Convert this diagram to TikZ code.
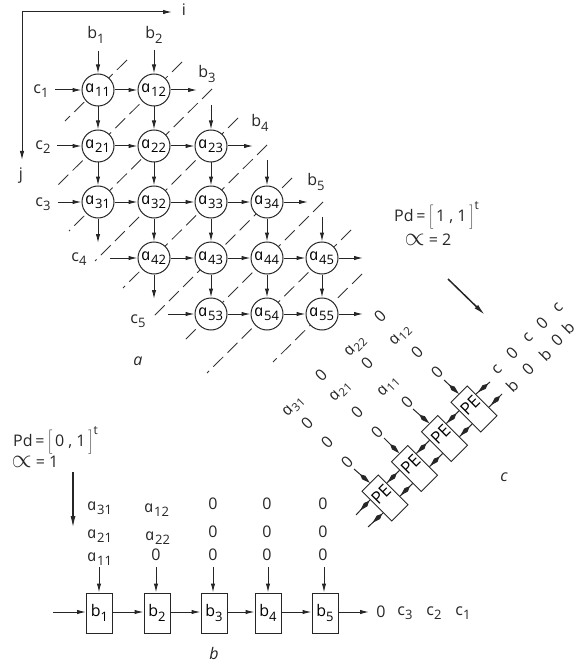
\documentclass[tikz,border=0pt]{standalone}
\usepackage{fontspec}
\setmainfont{Open Sans}
\newfontfamily\afont{Open Sans Italic}[FakeSlant=-0.21]
\usetikzlibrary{arrows.meta,calc,decorations.markings}
\newcommand\sbl[2]{#1\raisebox{-4.5pt}{\fontsize{13}{13}\selectfont #2}}
\newcommand\aij[1]{\sbl{{\afont a}}{#1}}
\newcommand\rsbl[1]{{\afont a}\raisebox{-3pt}{\fontsize{11.5}{11.5}\selectfont #1}}
\newcommand\pdtext[2]{Pd\,=\,$\bigg[$\,#1 , #2\,$\bigg]$\raisebox{12pt}{\fontsize{12}{12}\selectfont t}}
\newcommand\prop{\scalebox{1.5}{$\propto$}}
\tikzset{
  >={Latex[length=9pt,width=4.4pt]},
  every node/.style={font=\fontsize{16}{16}\selectfont,inner sep=0pt},
  line/.style={line width=1pt,draw=black!85},
  conn/.style={line,->},
  dashl/.style={line width=0.85pt,draw=black!80,dash pattern=on 14pt off 6pt},
  bigarrow/.style={line width=1.5pt,draw=black!85,-{Latex[length=12pt,width=5pt]}},
  cell/.style={circle,draw=black!85,line width=1pt,fill=white,minimum size=32pt},
  bbox/.style={rectangle,draw=black!85,line width=0.95pt,fill=white,minimum width=26pt,minimum height=40pt},
  pebox/.style={rectangle,draw=black!85,line width=0.95pt,fill=white,minimum width=23pt,minimum height=42pt,
     rotate=45,font=\fontsize{17}{17}\selectfont,text height=11pt,text depth=10pt},
  rlab/.style={rotate=45,text=black!85},
  txt/.style={text=black!85},
  pecon/.style={line,-{Kite[length=13pt,width=4.8pt,inset=5pt]}},
  pemid/.style={line,postaction={decorate,decoration={markings,
     mark=at position #1 with {\arrow{Kite[length=13pt,width=4.8pt,inset=5pt]}}}}},
  captext/.style={font=\fontsize{16}{16}\selectfont\itshape,text=black!85}
}
\begin{document}
\begin{tikzpicture}[x=1pt,y=-1pt]
\useasboundingbox (0,0) rectangle (579,663);
% axes
\coordinate (org) at (22,12);
\coordinate (iend) at (172,12);
\coordinate (jend) at (22,160);
\draw[conn] (org) -- (iend);
\draw[conn] (org) -- (jend);
\node[txt] (ilab) at (184,10) {i};
\node[txt] (jlab) at (21,176) {j};
% dashed diagonals
\foreach \n/\sx/\sy/\ex/\ey in {1/65/121/127/60,2/58/185/182/62,3/69/231/212/89,4/95/261/238/118,5/123/288/267/145,6/152/318/292/178,7/182/343/323/202,8/207/373/351/230,9/273/362/362/274}{
  \coordinate (ds\n) at (\sx,\sy);
  \coordinate (de\n) at (\ex,\ey);
  \draw[dashl] (de\n) -- (ds\n);
}
% cells of the array
\foreach \name/\x/\y in {11/98/90,12/154/90,21/98/146,22/154/146,23/211/146,31/98/202,32/154/202,33/211/202,34/267/202,42/154/258,43/211/258,44/267/258,45/322/258,53/211/314,54/267/314,55/322/314}{
  \node[cell] (a\name) at (\x,\y) {\aij{\name}};
}
% labels
\node[txt] (lb1) at (96,35) {\sbl{b}{1}};
\node[txt] (lb2) at (154,35) {\sbl{b}{2}};
\node[txt] (lb3) at (207,74) {\sbl{b}{3}};
\node[txt] (lb4) at (260,123) {\sbl{b}{4}};
\node[txt] (lb5) at (316,182) {\sbl{b}{5}};
\node[txt] (lc1) at (41,91) {\sbl{c}{1}};
\node[txt] (lc2) at (43,147) {\sbl{c}{2}};
\node[txt] (lc3) at (43,204) {\sbl{c}{3}};
\node[txt] (lc4) at (79,259) {\sbl{c}{4}};
\node[txt] (lc5) at (138,321) {\sbl{c}{5}};
% free ends
\foreach \n/\x/\y in {c1/55/90,c2/57/146,c3/58/202,c4/110/258,c5/168/314,r1/197/90,r2/253/146,r3/308/202,r4/363/258,r5/363/314,t1/98/51,t2/154/50,t3/211/105,t4/267/160,t5/322/217,o1/98/243,o2/154/299}{
  \coordinate (\n) at (\x,\y);
}
% horizontal connectors
\foreach \s/\e in {c1/a11,a11/a12,a12/r1,c2/a21,a21/a22,a22/a23,a23/r2,c3/a31,a31/a32,a32/a33,a33/a34,a34/r3,c4/a42,a42/a43,a43/a44,a44/a45,a45/r4,c5/a53,a53/a54,a54/a55,a55/r5}{
  \draw[conn] (\s) -- (\e);
}
% vertical connectors
\foreach \s/\e in {t1/a11,a11/a21,a21/a31,a31/o1,t2/a12,a12/a22,a22/a32,a32/a42,a42/o2,t3/a23,a23/a33,a33/a43,a43/a53,t4/a34,a34/a44,a44/a54,t5/a45,a45/a55}{
  \draw[conn] (\s) -- (\e);
}
\node[captext] (capa) at (138,361) {a};
% Pd texts
\node[txt,anchor=west] (pd1) at (394,215) {\pdtext{1}{1}};
\node[txt] (al1) at (428,240) {\prop\ = 2};
\coordinate (ba1) at (448,279);
\coordinate (ba2) at (485,315);
\draw[bigarrow] (ba1) -- (ba2);
\node[txt,anchor=west] (pd2) at (13,440) {\pdtext{0}{1}};
\node[txt] (al2) at (35,462) {\prop\ = 1};
\coordinate (bb1) at (73,472);
\coordinate (bb2) at (73,528);
\draw[bigarrow] (bb1) -- (bb2);
% part c
\foreach \n/\x/\y in {1/474/409,2/444.5/438.5,3/414.5/468.5,4/385/498}{
  \node[pebox] (p\n) at (\x,\y) {PE};
}
\foreach \n/\x/\y in {1/444/380,2/413/409,3/384/438,4/354/469}{
  \coordinate (in\n) at (\x,\y);
  \draw[pecon] (in\n) -- (p\n.north);
}
\foreach \a/\b in {1/2,2/3,3/4}{
  \draw[pemid=0.95] ($(p\a.west)!0.43!(p\a.north west)$) -- ($(p\b.east)!0.43!(p\b.north east)$);
  \draw[pemid=0.95] ($(p\a.west)!0.43!(p\a.south west)$) -- ($(p\b.east)!0.43!(p\b.south east)$);
}
\coordinate (cin) at (490,382);
\coordinate (bin) at (502,394);
\coordinate (cout) at (356,515);
\coordinate (bout) at (368,527);
\draw[pemid=0.85] (cin) -- ($(p1.east)!0.43!(p1.north east)$);
\draw[pemid=0.85] (bin) -- ($(p1.east)!0.43!(p1.south east)$);
\draw[pemid=0.7] ($(p4.west)!0.43!(p4.north west)$) -- (cout);
\draw[pemid=0.7] ($(p4.west)!0.43!(p4.south west)$) -- (bout);
% rotated data of part c
\foreach \lab/\x/\y [count=\i] in {c/497/370,0/512/353,c/528/338,0/542/323,c/558/308,b/512/386,0/528/369,b/545/355,0/557/340,b/568/328,0/437/372,0/417/352,0/380/316,0/407/402,0/367/363,0/377/432,0/357/412,0/321/375,0/347/462,0/327/442,0/307/423}{
  \node[rlab] (rd\i) at (\x,\y) {\lab};
}
\foreach \lab/\x/\y in {12/401/336,11/389/387,22/356/347,21/341/392,31/294/407}{
  \node[rlab] (ra\lab) at (\x,\y) {\rsbl{\lab}};
}
\node[captext] (capc) at (504,477) {c};
% part b
\node[txt] (s1) at (100,508) {\aij{31}};
\node[txt] (s2) at (100,536) {\aij{21}};
\node[txt] (s3) at (100,559) {\aij{11}};
\node[txt] (s4) at (157,510) {\aij{12}};
\node[txt] (s5) at (158,538) {\aij{22}};
\foreach \x/\y [count=\i] in {156/555,213/504,213/532,213/555,267/504,267/532,267/555,323/504,323/532,323/555}{
  \node[txt] (z\i) at (\x,\y) {0};
}
\foreach \n/\x in {1/99.5,2/157,3/214,4/268,5/325}{
  \node[bbox] (b\n) at (\x,613) {\sbl{b}{\n}};
}
\foreach \n/\x in {1/99,2/156,3/213,4/268,5/324}{
  \coordinate (bt\n) at (\x,567);
  \draw[conn] (bt\n) -- (bt\n |- b\n.north);
}
\coordinate (bl) at (53,612);
\coordinate (br) at (369,612);
\draw[conn] (bl) -- (bl -| b1.west);
\foreach \a/\b in {1/2,2/3,3/4,4/5}{
  \draw[conn] (b\a.east |- bl) -- (b\b.west |- bl);
}
\draw[conn] (b5.east |- bl) -- (br);
\node[txt] (q0) at (381,612) {0};
\node[txt] (q1) at (405,613) {\sbl{c}{3}};
\node[txt] (q2) at (434,613) {\sbl{c}{2}};
\node[txt] (q3) at (463,613) {\sbl{c}{1}};
\node[captext] (capb) at (214,653) {b};
\end{tikzpicture}
\end{document}
